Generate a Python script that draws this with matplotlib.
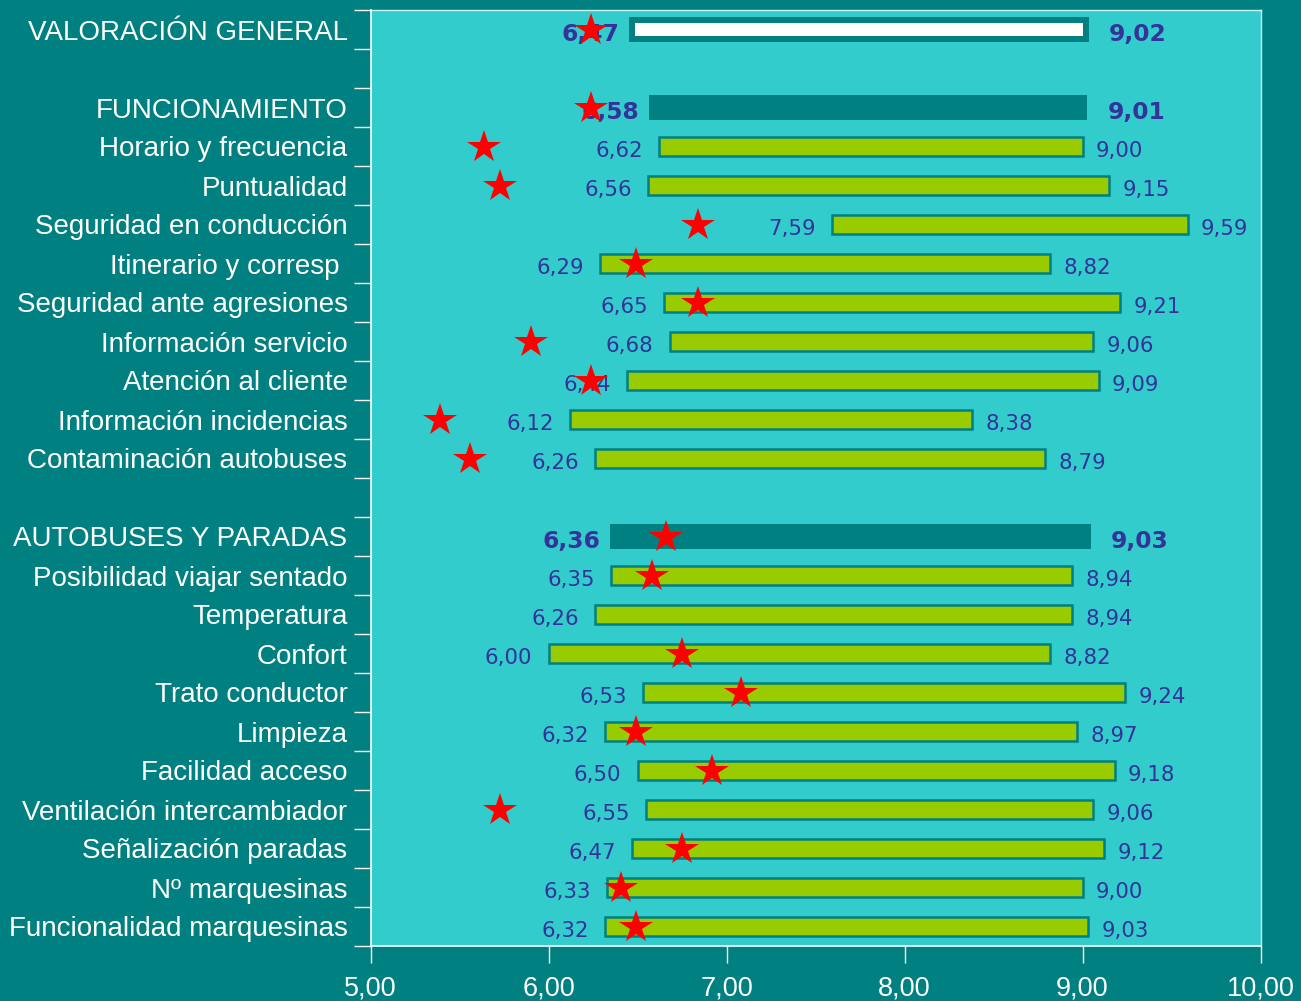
import matplotlib
matplotlib.use("Agg")
import matplotlib.pyplot as plt
import numpy as np
from matplotlib.ticker import FuncFormatter

# Rows from top to bottom; empty strings are spacer rows between blocks
categories = [
    "VALORACIÓN GENERAL", "",
    "FUNCIONAMIENTO", "Horario y frecuencia", "Puntualidad",
    "Seguridad en conducción", "Itinerario y corresp ",
    "Seguridad ante agresiones", "Información servicio",
    "Atención al cliente", "Información incidencias",
    "Contaminación autobuses", "",
    "AUTOBUSES Y PARADAS", "Posibilidad viajar sentado", "Temperatura",
    "Confort", "Trato conductor", "Limpieza", "Facilidad acceso",
    "Ventilación intercambiador", "Señalización paradas",
    "Nº marquesinas", "Funcionalidad marquesinas",
]
row_kind = [
    "total", "",
    "group", "item", "item", "item", "item", "item", "item", "item", "item", "item", "",
    "group", "item", "item", "item", "item", "item", "item", "item", "item", "item", "item",
]
low_values = [
    6.47, np.nan,
    6.58, 6.62, 6.56, 7.59, 6.29, 6.65, 6.68, 6.44, 6.12, 6.26, np.nan,
    6.36, 6.35, 6.26, 6.00, 6.53, 6.32, 6.50, 6.55, 6.47, 6.33, 6.32,
]
high_values = [
    9.02, np.nan,
    9.01, 9.00, 9.15, 9.59, 8.82, 9.21, 9.06, 9.09, 8.38, 8.79, np.nan,
    9.03, 8.94, 8.94, 8.82, 9.24, 8.97, 9.18, 9.06, 9.12, 9.00, 9.03,
]
star_values = [
    6.24, np.nan,
    6.24, 5.64, 5.73, 6.84, 6.49, 6.84, 5.90, 6.24, 5.39, 5.56, np.nan,
    6.66, 6.58, np.nan, 6.75, 7.08, 6.49, 6.92, 5.73, 6.75, 6.41, 6.49,
]
x_ticks = [5, 6, 7, 8, 9, 10]

TEAL = "#008080"
CYAN = "#33CCCC"
GREEN = "#99CC00"
INDIGO = "#333399"

plt.rcParams["font.family"] = ["Liberation Sans", "DejaVu Sans"]

fig = plt.figure(figsize=(13.01, 10.01), dpi=100, facecolor=TEAL)
W, H = 1301, 1001
ax = fig.add_axes([370.5 / W, 1 - 946 / H, 890 / W, 936 / H])
ax.set_facecolor(CYAN)

n = len(categories)
rows = np.arange(n)
bar_h = 0.47

for y, kind, lo, hi in zip(rows, row_kind, low_values, high_values):
    if not kind:
        continue
    if kind == "item":
        ax.barh(y, hi - lo, left=lo, height=bar_h, color=GREEN,
                edgecolor=TEAL, linewidth=1.8, zorder=2)
        fs, fw, gap_lo, gap_hi = 15.3, "normal", 0.09, 0.075
    else:
        face = "white" if kind == "total" else TEAL
        ax.barh(y, hi - lo, left=lo, height=bar_h, color=face,
                edgecolor=TEAL, linewidth=4.3, zorder=2)
        fs, fw, gap_lo, gap_hi = 16.8, "bold", 0.07, 0.13
    ty = y + 0.12
    ax.text(lo - gap_lo, ty, f"{lo:.2f}".replace(".", ","), ha="right",
            va="center", color=INDIGO, fontsize=fs, fontweight=fw,
            family="DejaVu Sans", zorder=3)
    ax.text(hi + gap_hi, ty, f"{hi:.2f}".replace(".", ","), ha="left",
            va="center", color=INDIGO, fontsize=fs, fontweight=fw,
            family="DejaVu Sans", zorder=3)

ax.plot(star_values, rows, linestyle="none", marker="*", markersize=25,
        color="#FF0000", markeredgewidth=0, zorder=4)

ax.set_xlim(5, 10)
ax.set_ylim(n - 0.5, -0.5)

# Row separators as outward ticks, category names on minor ticks
ax.set_yticks(np.arange(-0.5, n, 1))
ax.set_yticks(rows, minor=True)
ax.set_yticklabels(categories, minor=True)
ax.tick_params(axis="y", which="major", length=12.5, width=1, color="white",
               direction="out", labelleft=False)
ax.tick_params(axis="y", which="minor", length=0, pad=16.5, labelsize=20,
               labelcolor="white")

ax.set_xticks(x_ticks)
ax.xaxis.set_major_formatter(FuncFormatter(lambda v, p: f"{v:.2f}".replace(".", ",")))
ax.tick_params(axis="x", which="major", length=12.5, width=1, color="white",
               direction="out", pad=9, labelsize=19.5, labelcolor="white")

for side in ("left", "bottom"):
    ax.spines[side].set_color("white")
    ax.spines[side].set_linewidth(1.2)
for side in ("top", "right"):
    ax.spines[side].set_color("#CCF2F2")
    ax.spines[side].set_linewidth(1.0)

fig.savefig("out.png", dpi=100, facecolor=TEAL)
